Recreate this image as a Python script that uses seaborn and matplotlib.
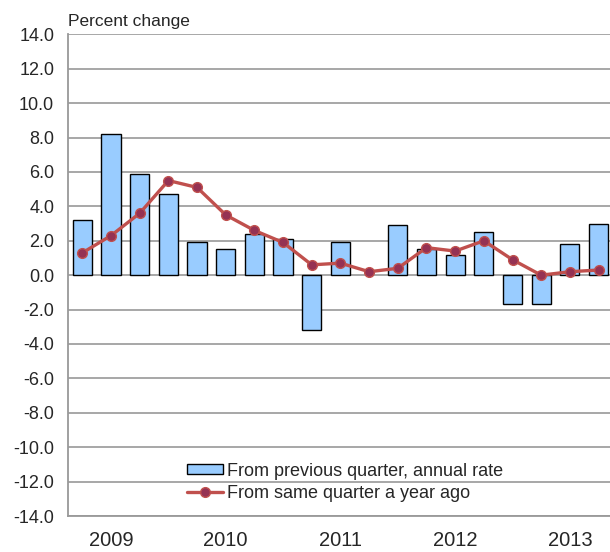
import numpy as np
import pandas as pd
import matplotlib
matplotlib.use("Agg")
import matplotlib.pyplot as plt
import seaborn as sns
from matplotlib.ticker import FuncFormatter

# Quarterly data, 2009Q1 - 2013Q3
quarters = ["2009Q1", "2009Q2", "2009Q3", "2009Q4",
            "2010Q1", "2010Q2", "2010Q3", "2010Q4",
            "2011Q1", "2011Q2", "2011Q3", "2011Q4",
            "2012Q1", "2012Q2", "2012Q3", "2012Q4",
            "2013Q1", "2013Q2", "2013Q3"]
prev_quarter = [3.2, 8.2, 5.9, 4.7, 1.9, 1.5, 2.4, 2.1, -3.2, 1.9,
                0.0, 2.9, 1.5, 1.2, 2.5, -1.7, -1.7, 1.8, 3.0]
year_ago = [1.3, 2.3, 3.6, 5.5, 5.1, 3.5, 2.6, 1.9, 0.6, 0.7,
            0.2, 0.4, 1.6, 1.4, 2.0, 0.9, 0.0, 0.2, 0.3]
year_labels = ["2009", "2010", "2011", "2012", "2013"]
year_label_quarters = ["2009Q2", "2010Q2", "2011Q2", "2012Q2", "2013Q2"]

df = pd.DataFrame({
    "quarter": quarters,
    "pos": np.arange(len(quarters)),
    "prev": prev_quarter,
    "yoy": year_ago,
})

sns.set_theme(style="white")
plt.rcParams["font.family"] = ["Liberation Sans", "DejaVu Sans"]

fig = plt.figure(figsize=(6.10, 5.52), dpi=100)
ax = fig.add_axes([0.1115, 0.0652, 0.8885, 0.8726])

sns.barplot(data=df, x="quarter", y="prev", order=quarters, color="#99ccff",
            saturation=1, width=0.67, edgecolor="black", linewidth=1,
            label="From previous quarter, annual rate", ax=ax, zorder=3)
# zero-height bars show no outline in the original
for p in ax.patches:
    if p.get_height() == 0:
        p.set_edgecolor("none")

sns.lineplot(data=df, x="pos", y="yoy", color="#c0504d", linewidth=2.4,
             marker="o", markersize=7, markerfacecolor="#953253",
             markeredgecolor="#c0504d", markeredgewidth=1,
             label="From same quarter a year ago", ax=ax, zorder=4)

ax.set_ylim(-14, 14)
ax.set_yticks(np.arange(-14, 14.1, 2))
ax.yaxis.set_major_formatter(FuncFormatter(lambda v, p: f"{v:.1f}".replace("\u2212", "-")))
ax.yaxis.grid(True, color="#a0a0a0", linewidth=1.3)
ax.set_axisbelow(True)
ax.set_xlim(-0.5, 18.4)

ax.set_xticks([quarters.index(q) for q in year_label_quarters])
ax.set_xticklabels(year_labels, fontsize=14.5)
ax.tick_params(axis="x", length=0, pad=11)
ax.tick_params(axis="y", length=0, pad=10, labelsize=13)
ax.set_xlabel("")
ax.set_ylabel("")

for side in ["top", "right"]:
    ax.spines[side].set_visible(False)
for side in ["left", "bottom"]:
    ax.spines[side].set_color("#999999")
    ax.spines[side].set_linewidth(1.3)

ax.text(0.0, 1.012, "Percent change", transform=ax.transAxes, fontsize=12.5,
        ha="left", va="bottom")

handles, labels = ax.get_legend_handles_labels()
order = [labels.index("From previous quarter, annual rate"),
         labels.index("From same quarter a year ago")]
leg = ax.legend([handles[i] for i in order], [labels[i] for i in order],
                loc="lower left", bbox_to_anchor=(0.206, 0.014), frameon=False,
                fontsize=13, handlelength=2.0, handleheight=0.5,
                handletextpad=0.2, labelspacing=0.3, borderaxespad=0)

fig.savefig("out.png", dpi=100)
